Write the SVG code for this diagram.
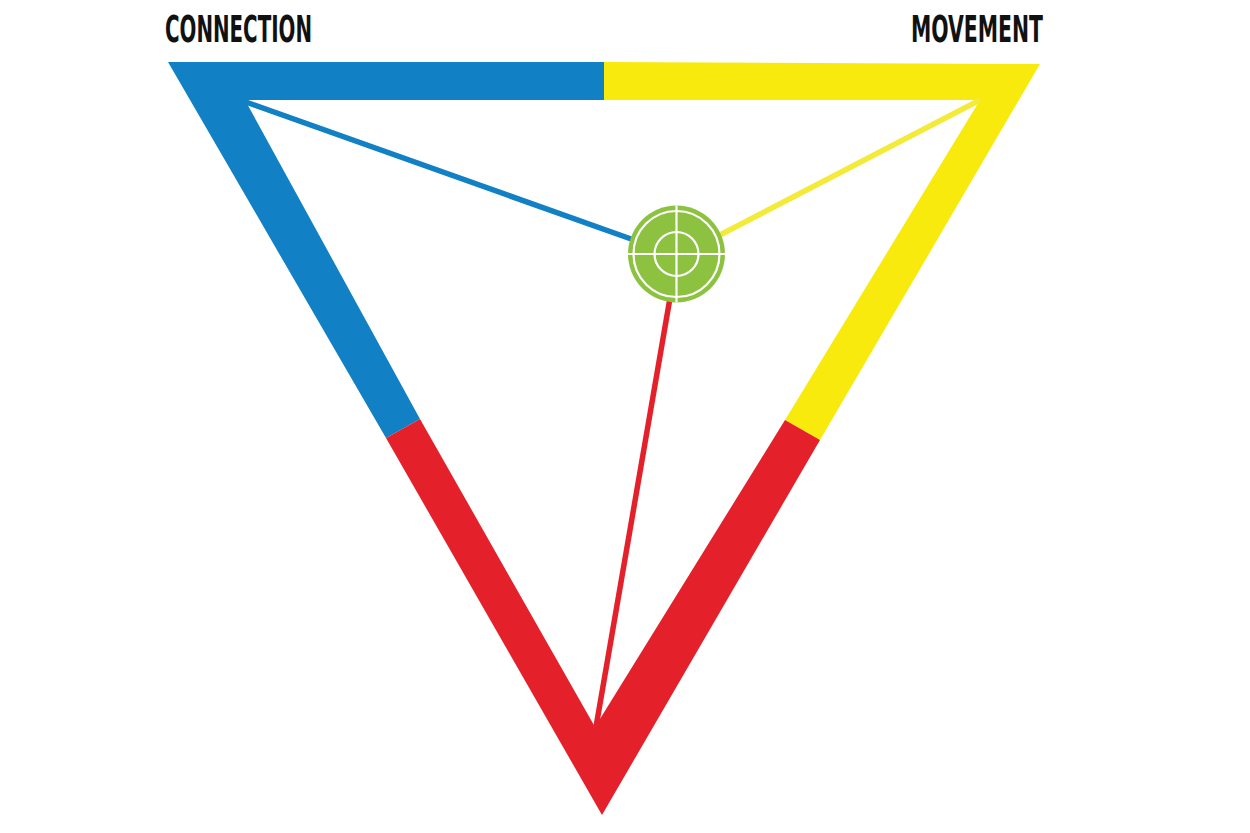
<svg xmlns="http://www.w3.org/2000/svg" width="1250" height="833" viewBox="0 0 1250 833">
<style>
.lbl{font-family:"Liberation Sans Narrow","DejaVu Sans Condensed","Liberation Sans",sans-serif;font-weight:bold;font-size:38px;fill:#111}
.blue{fill:#1180c4}
.yellow{fill:#f8ea0c}
.red{fill:#e4202a}
.spoke{fill:none;stroke-width:5.5}
.cross{fill:none;stroke:#fff;stroke-width:2.2}
</style>
<rect width="1250" height="833" fill="#fff"/>
<g id="edge-connection">
<polygon class="blue" points="386,438 168,62 604,62 604,100 245,100 420,419"/>
</g>
<g id="edge-movement">
<polygon class="yellow" points="604,62 1040,64 820,440 785,420 980,100 604,100"/>
</g>
<g id="edge-base">
<polygon class="red" points="386,438 602,815 820,440 785,420 595,727 420,419"/>
</g>
<g id="connectors">
<line class="spoke" x1="243" y1="101" x2="634" y2="240" stroke="#1180c4"/>
<line class="spoke" x1="980" y1="100" x2="718" y2="236" stroke="#f3ea3a"/>
<line class="spoke" x1="596" y1="727" x2="670" y2="298" stroke="#e4202a"/>
</g>
<g id="target">
<circle cx="676.5" cy="254" r="48.5" fill="#8cc240"/>
<circle class="cross" cx="676.5" cy="254" r="43"/>
<circle class="cross" cx="676.5" cy="254" r="22"/>
<line class="cross" x1="676.5" y1="205.5" x2="676.5" y2="302.5"/>
<line class="cross" x1="628" y1="254" x2="725" y2="254"/>
</g>
<g id="label-connection">
<text class="lbl" x="165" y="42" textLength="147" lengthAdjust="spacingAndGlyphs">CONNECTION</text>
</g>
<g id="label-movement">
<text class="lbl" x="911" y="42" textLength="132" lengthAdjust="spacingAndGlyphs">MOVEMENT</text>
</g>
</svg>
